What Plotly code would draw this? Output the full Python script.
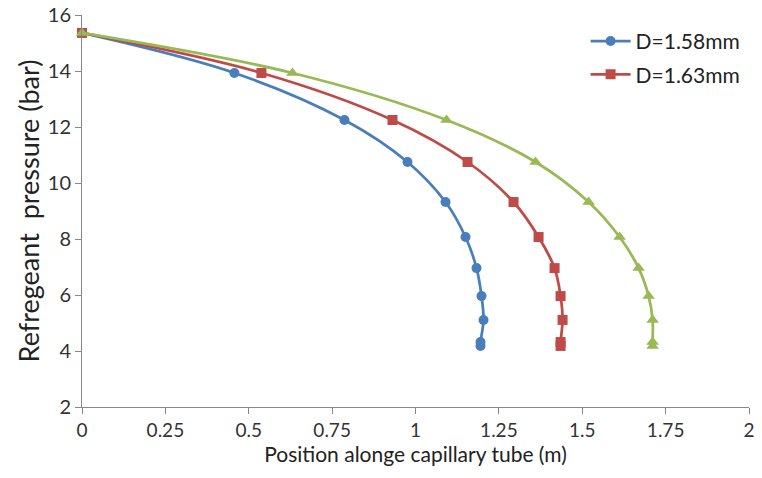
import plotly.graph_objects as go

pressure = [15.36, 13.93, 12.25, 10.75, 9.32, 8.07, 6.96, 5.96, 5.11, 4.32, 4.18]
pos_158 = [0.0, 0.457, 0.787, 0.976, 1.090, 1.150, 1.183, 1.198, 1.204, 1.195, 1.195]
pos_163 = [0.0, 0.538, 0.931, 1.156, 1.294, 1.369, 1.417, 1.435, 1.441, 1.435, 1.435]
pos_3 = [0.0, 0.631, 1.093, 1.360, 1.519, 1.612, 1.669, 1.699, 1.711, 1.711, 1.711]

x_ticks = [0, 0.25, 0.5, 0.75, 1, 1.25, 1.5, 1.75, 2]
x_ticktext = ["0", "0.25", "0.5", "0.75", "1", "1.25", "1.5", "1.75", "2"]
y_ticks = [2, 4, 6, 8, 10, 12, 14, 16]

series = [
    ("D=1.58mm", pos_158, "#4A7EBB", "circle", True, 10),
    ("D=1.63mm", pos_163, "#BE4B48", "square", True, 10),
    ("D=1.68mm", pos_3, "#98B954", "triangle-up", False, 11),
]

fig = go.Figure()
for name, xs, color, sym, show, ms in series:
    fig.add_trace(go.Scatter(
        x=xs, y=pressure, name=name, mode="lines+markers",
        line=dict(color=color, width=2.75, shape="spline"),
        marker=dict(symbol=sym, size=ms, color=color),
        showlegend=show, legendgroup=name, cliponaxis=False,
    ))

font = "Lato, 'Open Sans', sans-serif"
fig.update_layout(
    width=762, height=478,
    margin=dict(l=82, r=13, t=15, b=71, autoexpand=False),
    paper_bgcolor="white", plot_bgcolor="white",
    font=dict(family=font, size=19, color="#333333"),
    legend=dict(x=0.755, y=0.985, xanchor="left", yanchor="top",
                font=dict(size=21, color="#222222"),
                bgcolor="rgba(0,0,0,0)", tracegroupgap=3, itemwidth=40),
    xaxis=dict(range=[0, 2], tickvals=x_ticks, ticktext=x_ticktext,
               showline=True, linecolor="#888888", linewidth=1,
               ticks="outside", ticklen=6, tickcolor="#888888",
               showgrid=False, zeroline=False, automargin=False,
               tickfont=dict(size=19, color="#333333"),
               title=dict(text="Position alonge capillary tube (m)",
                          font=dict(size=21, color="#222222"), standoff=0)),
    yaxis=dict(range=[2, 16], tickvals=y_ticks,
               showline=True, linecolor="#888888", linewidth=1,
               ticks="outside", ticklen=6, tickcolor="#888888",
               showgrid=False, zeroline=False, automargin=False,
               tickfont=dict(size=20, color="#333333"),
               title=dict(text="Refregeant\u00a0 pressure (bar)",
                          font=dict(size=27, color="#222222"), standoff=0)),
)

fig.write_html(
    "out.html",
    config={"displayModeBar": False},
    post_script="document.body.style.margin='0px';document.body.style.overflow='hidden';",
)
